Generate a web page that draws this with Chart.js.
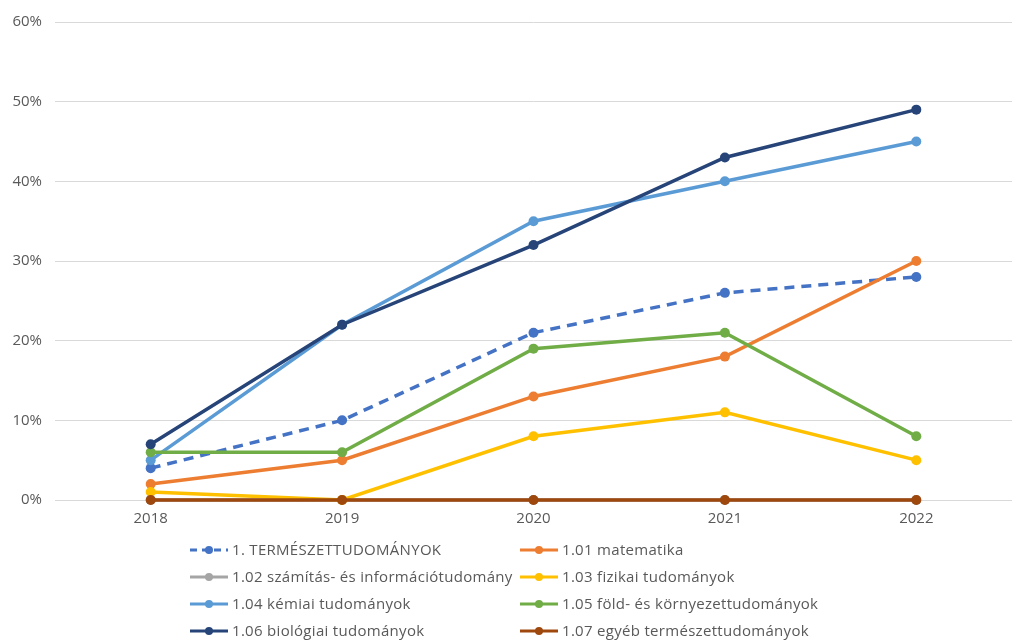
<!DOCTYPE html>
<html>
<head>
<meta charset="utf-8">
<script src="https://cdn.jsdelivr.net/npm/chart.js@4.4.1/dist/chart.umd.min.js"></script>
<style>
  body { margin: 0; background: #fff; font-family: "Open Sans", sans-serif; }
  #wrap { position: relative; width: 1019px; height: 640px; }
  #legend { position: absolute; left: 190px; top: 537px; width: 640px; }
  .item { position: absolute; height: 24px; line-height: 24px; font-size: 15px; letter-spacing: 0.3px; color: #595959; white-space: nowrap; }
  .item svg { vertical-align: middle; margin-right: 4px; position: relative; top: -1px; }
</style>
</head>
<body>
<div id="wrap">
  <canvas id="lineChart" width="1019" height="640"></canvas>
  <div id="legend"></div>
</div>
<script>
var years = ['2018', '2019', '2020', '2021', '2022'];

var seriesNames = [
    '1. TERMÉSZETTUDOMÁNYOK',
    '1.01 matematika',
    '1.02 számítás- és információtudomány',
    '1.03 fizikai tudományok',
    '1.04 kémiai tudományok',
    '1.05 föld- és környezettudományok',
    '1.06 biológiai tudományok',
    '1.07 egyéb természettudományok'
];

var termeszet = [4, 10, 21, 26, 28];
var matematika = [2, 5, 13, 18, 30];
var szamitas = [0, 0, 0, 0, 0];
var fizikai = [1, 0, 8, 11, 5];
var kemiai = [5, 22, 35, 40, 45];
var fold = [6, 6, 19, 21, 8];
var biologiai = [7, 22, 32, 43, 49];
var egyeb = [0, 0, 0, 0, 0];

var seriesValues = [termeszet, matematika, szamitas, fizikai, kemiai, fold, biologiai, egyeb];
var seriesColors = ['#4472C4', '#ED7D31', '#A5A5A5', '#FFC000', '#5B9BD5', '#70AD47', '#264478', '#9E480E'];

var yTicks = [0, 10, 20, 30, 40, 50, 60];

function buildDatasets() {
    var sets = [];
    for (var i = 0; i < seriesNames.length; i++) {
        sets.push({
            label: seriesNames[i],
            data: seriesValues[i],
            borderColor: seriesColors[i],
            backgroundColor: seriesColors[i],
            borderWidth: 3.5,
            borderDash: i == 0 ? [10, 7] : [],
            pointRadius: 5,
            pointHoverRadius: 5,
            pointBorderWidth: 0,
            tension: 0,
            fill: false,
            clip: false,
            // later series on top, like the original
            order: seriesNames.length - i
        });
    }
    return sets;
}

function loadLegend() {
    var box = document.getElementById('legend');
    for (var i = 0; i < seriesNames.length; i++) {
        var col = i % 2, row = Math.floor(i / 2);
        var dash = i == 0 ? ' stroke-dasharray="7,5"' : '';
        var div = document.createElement('div');
        div.className = 'item';
        div.style.left = (col * 330) + 'px';
        div.style.top = (row * 27) + 'px';
        div.innerHTML = '<svg width="38" height="10"><line x1="0" y1="5" x2="38" y2="5" stroke="' + seriesColors[i] +
            '" stroke-width="3"' + dash + '/><circle cx="19" cy="5" r="4" fill="' + seriesColors[i] + '"/></svg>' +
            seriesNames[i];
        box.appendChild(div);
    }
}

var chart = new Chart(document.getElementById('lineChart'), {
    type: 'line',
    data: { labels: years, datasets: buildDatasets() },
    options: {
        responsive: false,
        animation: false,
        layout: { padding: { top: 20, right: 7, bottom: 110, left: 0 } },
        plugins: { legend: { display: false }, tooltip: { enabled: false } },
        scales: {
            x: {
                offset: true,
                grid: { display: false, drawTicks: false },
                border: { display: false },
                ticks: { color: '#595959', font: { family: 'Open Sans', size: 15 }, padding: 10 },
                afterFit: function (s) { s.height = 30; }
            },
            y: {
                min: 0,
                max: 60,
                afterBuildTicks: function (s) { s.ticks = yTicks.map(function (v) { return { value: v }; }); },
                grid: { color: '#D9D9D9', lineWidth: 1, drawTicks: false },
                border: { display: false },
                ticks: {
                    color: '#595959',
                    font: { family: 'Open Sans', size: 15 },
                    padding: 13,
                    callback: function (v) { return v + '%'; }
                },
                afterFit: function (s) { s.width = 55; }
            }
        }
    }
});

loadLegend();
</script>
</body>
</html>
